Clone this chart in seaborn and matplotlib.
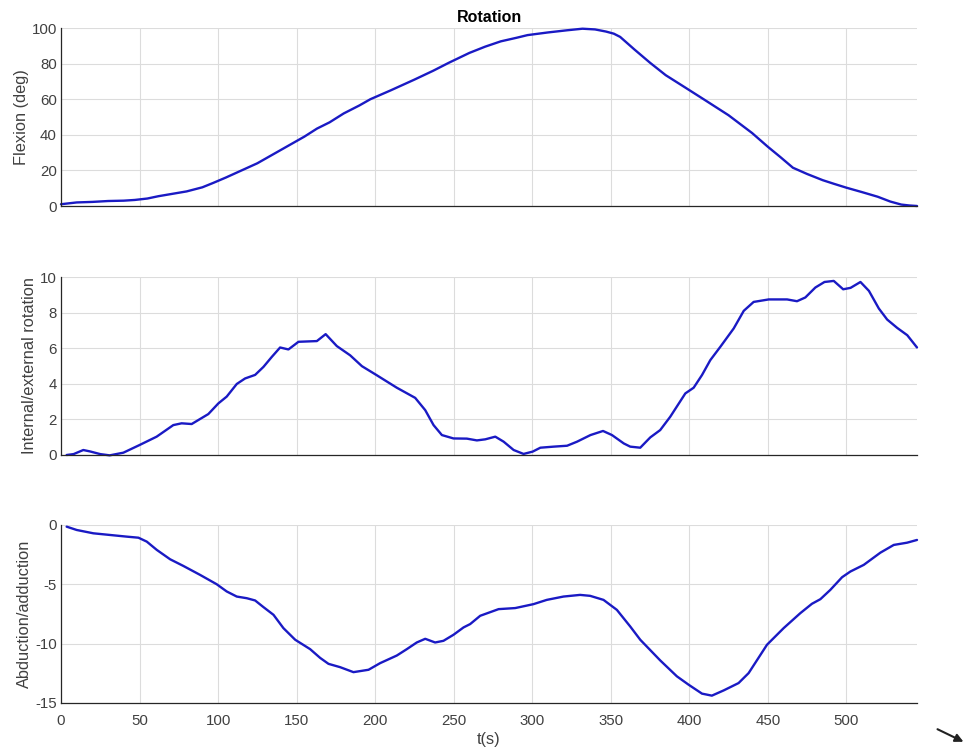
import numpy as np
import pandas as pd
import matplotlib
matplotlib.use("Agg")
import matplotlib.pyplot as plt
import seaborn as sns

# ---- data ----
t_flex = [0, 5, 10, 20, 30, 40, 47, 55, 62, 70, 80, 90, 97, 105, 115, 125, 135, 147, 155, 163, 171,
          180, 190, 197, 210, 225, 237, 247, 260, 270, 280, 290, 297, 310, 322, 332, 340, 347, 352,
          356, 365, 375, 385, 397, 410, 425, 440, 450, 458, 466, 475, 485, 492, 500, 510, 520, 528,
          535, 540, 545]
flexion = [1.0, 1.5, 2.0, 2.3, 2.8, 3.0, 3.4, 4.2, 5.5, 6.7, 8.2, 10.5, 13.0, 16.0, 20.0, 24.0, 29.0,
           35.0, 39.0, 43.5, 47.0, 52.0, 56.5, 60.0, 65.0, 71.0, 76.0, 80.5, 86.0, 89.5, 92.5, 94.5,
           96.0, 97.5, 98.7, 99.6, 99.2, 98.0, 96.8, 95.0, 88.0, 80.5, 73.5, 66.8, 59.5, 51.0, 41.0,
           33.3, 27.5, 21.5, 18.0, 14.5, 12.5, 10.3, 7.8, 5.2, 2.5, 0.8, 0.3, 0.0]

t_rot = [3.6, 8, 14.2, 18.5, 25, 31, 39.7, 50, 60.9, 71.5, 76.8, 83.2, 93.8, 100.2, 105.5, 111.9,
         117.2, 123.6, 128.9, 134.2, 139.5, 144.8, 151.2, 162.9, 168.5, 175.6, 184.1, 191.6, 200.7,
         213.8, 225.5, 231.9, 237.2, 242.5, 249.9, 258.4, 264.8, 270.1, 276.5, 281.8, 288.2, 294.5,
         300.3, 305.2, 313.7, 322.2, 328.6, 337.1, 345.1, 350.8, 358.3, 362.4, 368.8, 375.2, 381.5,
         387.9, 397.5, 402.8, 408.1, 413.4, 419.8, 428.3, 434.7, 441.0, 450.6, 462.3, 468.6, 473.9,
         480.3, 486.1, 492.0, 498.0, 502.7, 509.0, 514.4, 520.7, 526.0, 532.4, 538.8, 545.0]
rotation = [0.0, 0.05, 0.28, 0.2, 0.05, -0.02, 0.13, 0.56, 1.03, 1.68, 1.78, 1.74, 2.3, 2.9, 3.28,
            3.99, 4.3, 4.5, 4.95, 5.51, 6.04, 5.93, 6.36, 6.4, 6.79, 6.12, 5.6, 4.99, 4.5, 3.78, 3.21,
            2.52, 1.68, 1.12, 0.93, 0.92, 0.82, 0.88, 1.03, 0.75, 0.28, 0.06, 0.19, 0.41, 0.47, 0.52,
            0.75, 1.12, 1.35, 1.12, 0.65, 0.47, 0.41, 0.99, 1.4, 2.15, 3.46, 3.78, 4.49, 5.33, 6.08,
            7.11, 8.1, 8.6, 8.74, 8.74, 8.64, 8.85, 9.41, 9.72, 9.78, 9.31, 9.39, 9.72, 9.22, 8.23,
            7.61, 7.14, 6.73, 6.04]

t_abd = [3.6, 10, 20.6, 31.2, 41.8, 49.3, 54.6, 61, 69.5, 77.9, 88.5, 99.1, 105.5, 111.9, 118.3,
         123.6, 128.9, 135.3, 141.6, 149.1, 158.6, 165, 170.3, 177.7, 186.2, 195.8, 203.2, 213.8,
         220.2, 226.5, 231.9, 238.2, 243.5, 249.9, 256.3, 260.5, 266.9, 278.6, 289.2, 300.8, 309.3,
         319.9, 330.5, 336.9, 345.4, 353.9, 362.4, 368.8, 381.5, 392.1, 399.6, 408.1, 414.4, 421.9,
         431.4, 437.8, 449.5, 460.1, 470.7, 478.1, 483.5, 489.8, 497.3, 502.6, 511.1, 521.7, 530.2,
         538.7, 545.0]
abduction = [-0.14, -0.42, -0.7, -0.84, -0.98, -1.07, -1.4, -2.1, -2.89, -3.45, -4.2, -4.99, -5.6,
             -6.03, -6.17, -6.36, -6.92, -7.57, -8.69, -9.67, -10.46, -11.2, -11.7, -11.98, -12.4,
             -12.2, -11.64, -11.0, -10.46, -9.9, -9.59, -9.9, -9.76, -9.25, -8.63, -8.35, -7.65,
             -7.09, -7.0, -6.67, -6.31, -6.03, -5.89, -5.97, -6.31, -7.15, -8.55, -9.67, -11.41,
             -12.75, -13.46, -14.21, -14.38, -13.94, -13.32, -12.48, -10.09, -8.69, -7.43, -6.64,
             -6.25, -5.47, -4.4, -3.92, -3.36, -2.33, -1.68, -1.49, -1.26]

xticks = [0, 50, 100, 150, 200, 250, 300, 350, 400, 450, 500]
yticks_flex = [0, 20, 40, 60, 80, 100]
yticks_rot = [0, 2, 4, 6, 8, 10]
yticks_abd = [-15, -10, -5, 0]

# ---- plotting ----
sns.set_style("white")
plt.rcParams['font.family'] = ['Liberation Sans', 'DejaVu Sans']
plt.rcParams['axes.unicode_minus'] = False

fig = plt.figure(figsize=(9.68, 7.47), dpi=100)
left, width = 61 / 968, (917 - 61) / 968
boxes = [
    (left, 1 - 206 / 747, width, (206 - 28) / 747),
    (left, 1 - 455 / 747, width, (455 - 277) / 747),
    (left, 1 - 703 / 747, width, (703 - 525) / 747),
]
line_color = '#1a1ac4'
ax_color = '#262626'
label_color = '#404040'

specs = [
    (t_flex, flexion, yticks_flex, (0, 100), 'Flexion (deg)'),
    (t_rot, rotation, yticks_rot, (0, 10), 'Internal/external rotation'),
    (t_abd, abduction, yticks_abd, (-15, 0), 'Abduction/adduction'),
]

axes = []
for i, (box, (tx, vy, yt, yl, lab)) in enumerate(zip(boxes, specs)):
    ax = fig.add_axes(box)
    df = pd.DataFrame({'t': tx, 'v': vy})
    sns.lineplot(data=df, x='t', y='v', ax=ax, color=line_color, linewidth=1.7, clip_on=False)
    ax.set_xlim(0, 545)
    ax.set_ylim(*yl)
    ax.set_xticks(xticks)
    ax.set_yticks(yt)
    ax.grid(True, color='#dcdcdc', linewidth=0.8)
    ax.set_axisbelow(True)
    for s in ['top', 'right']:
        ax.spines[s].set_visible(False)
    for s in ['left', 'bottom']:
        ax.spines[s].set_color(ax_color)
        ax.spines[s].set_linewidth(0.9)
    ax.tick_params(direction='in', length=5, width=0.9, color=ax_color,
                   labelcolor=label_color, labelsize=10.8, pad=3)
    ax.tick_params(axis='x', pad=8)
    ax.set_ylabel(lab, fontsize=11.8, color=label_color, labelpad=2)
    if i < 2:
        ax.set_xticklabels([])
        ax.set_xlabel('')
    else:
        ax.set_xlabel('t(s)', fontsize=11.8, color=label_color, labelpad=3)
    axes.append(ax)

axes[0].set_title('Rotation', fontsize=11.5, fontweight='bold', color='black', pad=4)

fig.add_artist(matplotlib.patches.FancyArrowPatch(
    (935 / 968, 1 - 728 / 747), (966 / 968, 1 - 743 / 747),
    transform=fig.transFigure, arrowstyle='-|>', mutation_scale=12,
    color='#222222', linewidth=1.5))

fig.savefig('out.png', dpi=100)
